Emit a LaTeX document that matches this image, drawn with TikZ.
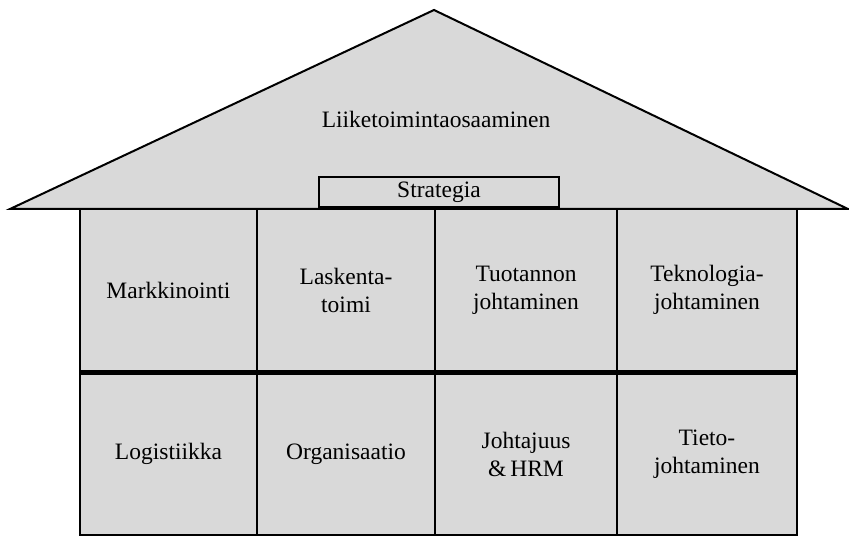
\documentclass[tikz,border=0pt]{standalone}
\usepackage{fontspec}
\setmainfont{Liberation Serif}
\definecolor{housefill}{HTML}{D9D9D9}
\begin{document}
\begin{tikzpicture}[x=1pt,y=1pt,
  cell/.style={draw=black,line width=2pt,fill=housefill,minimum width=#1,minimum height=162pt,inner sep=0pt,outer sep=0pt,align=center,text width=150pt,font=\fontsize{23.5}{28}\selectfont},
  lbl/.style={inner sep=0pt,align=center,font=\fontsize{23.5}{28}\selectfont}]
\useasboundingbox (0,0) rectangle (849,537);
% roof
\coordinate (rl) at (10,328);
\coordinate (rr) at (848,328);
\coordinate (ap) at (434,527);
\draw[line width=2pt,fill=housefill,line join=miter] (rl) -- (ap) -- (rr) -- cycle;
\node[lbl] (roof) at (436,418) {Liiketoimintaosaaminen};
% top row
\node[cell=177pt,anchor=north west] (c11) at (80,328) {Markkinointi};
\node[cell=178pt,anchor=north west] (c12) at (257,328) {Laskenta-\\toimi};
\node[cell=182pt,anchor=north west] (c13) at (435,328) {Tuotannon\\johtaminen};
\node[cell=180pt,anchor=north west] (c14) at (617,328) {Teknologia-\\johtaminen};
% bottom row
\node[cell=177pt,anchor=north west] (c21) at (80,164) {Logistiikka};
\node[cell=178pt,anchor=north west] (c22) at (257,164) {Organisaatio};
\node[cell=182pt,anchor=north west] (c23) at (435,164) {Johtajuus\\\&\,HRM};
\node[cell=180pt,anchor=north west] (c24) at (617,164) {Tieto-\\johtaminen};
% thick middle line
\draw[line width=4pt] (c21.north west) -- (c24.north east);
% roof base line
\draw[line width=2pt] (rl) -- (rr);
% strategia box
\node[draw=black,line width=2pt,fill=housefill,minimum width=240pt,minimum height=30pt,inner sep=0pt,anchor=south west,font=\fontsize{23.5}{27}\selectfont] (strat) at (318,329) {Strategia};
\end{tikzpicture}
\end{document}
